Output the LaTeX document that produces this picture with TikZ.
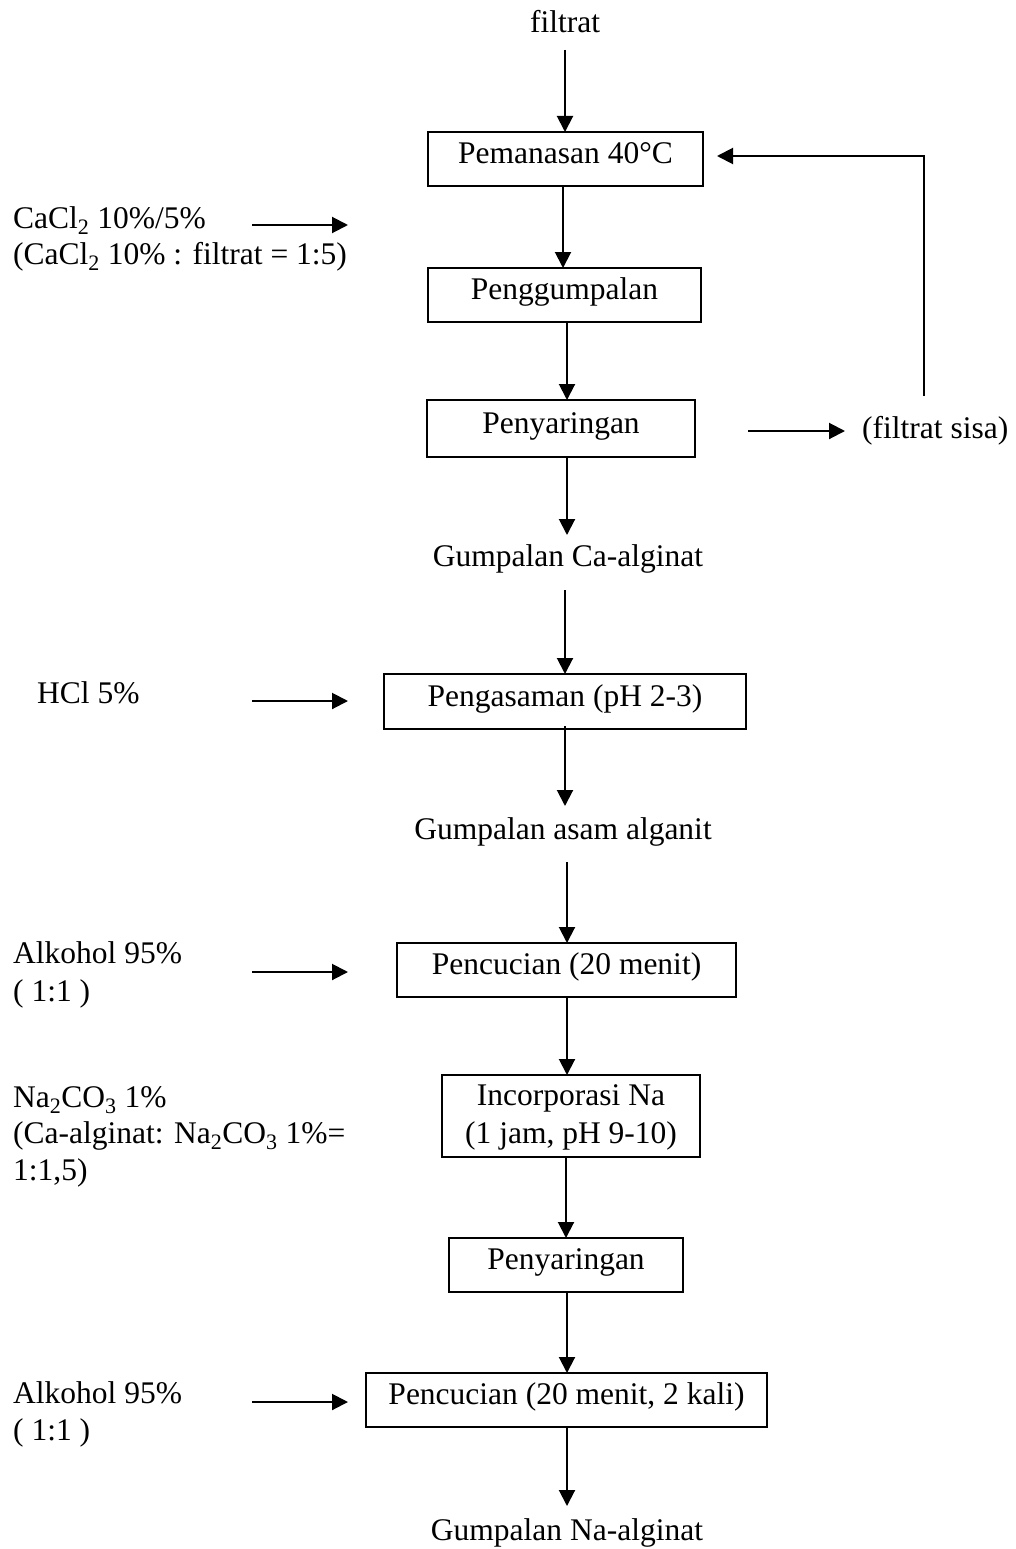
\documentclass[tikz,border=0pt]{standalone}
\usepackage{fontspec}
\setmainfont{Liberation Serif}
\usetikzlibrary{arrows.meta}
\newcommand\bigf{\fontsize{31.5}{37}\selectfont}
\begin{document}
\begin{tikzpicture}[x=1pt,y=-1pt,
  every node/.style={font=\bigf, inner sep=0pt},
  box/.style={draw, line width=2pt, text height=17pt, text depth=8pt},
  lbl/.style={anchor=base west},
  arr/.style={-{Triangle[length=16pt,width=16pt]}, line width=2pt}]
\useasboundingbox (0,0) rectangle (1016,1549);
% main column
\node[anchor=base] (filtrat) at (565,33) {filtrat};
\node[box, minimum width=275pt, minimum height=54pt] (pem) at (565.5,159) {Pemanasan 40°C};
\node[box, minimum width=273pt, minimum height=54pt] (peng) at (564.5,295) {Penggumpalan};
\node[box, minimum width=268pt, minimum height=57pt] (pny1) at (561,428.5) {Penyaringan};
\node[anchor=base] (gca) at (568,566) {Gumpalan Ca-alginat};
\node[box, minimum width=362pt, minimum height=55pt] (pengas) at (565,701.5) {Pengasaman (pH 2-3)};
\node[anchor=base] (gas) at (563,839) {Gumpalan asam alganit};
\node[box, minimum width=339pt, minimum height=54pt] (pnc1) at (566.5,970) {Pencucian (20 menit)};
\node[box, minimum width=258pt, minimum height=82pt] (inc) at (571,1116) {};
\node[anchor=base] (inc1) at (571,1105) {Incorporasi Na};
\node[anchor=base] (inc2) at (571,1143) {(1 jam, pH 9-10)};
\node[box, minimum width=234pt, minimum height=54pt] (pny2) at (566,1265) {Penyaringan};
\node[box, minimum width=401pt, minimum height=54pt] (pnc2) at (566.5,1400) {Pencucian (20 menit, 2 kali)};
\node[anchor=base] (gna) at (567,1540) {Gumpalan Na-alginat};
% right side
\node[lbl] (sisa) at (862,438) {(filtrat sisa)};
% left labels
\node[lbl] (ca1) at (13,228) {CaCl\textsubscript{2} 10\%/5\%};
\node[lbl] (ca2) at (13,264) {(CaCl\textsubscript{2} 10\% : filtrat = 1:5)};
\node[lbl] (hcl) at (37,703) {HCl 5\%};
\node[lbl] (al1) at (13,963) {Alkohol 95\%};
\node[lbl] (al1b) at (13,1001) {( 1:1 )};
\node[lbl] (na1) at (13,1107) {Na\textsubscript{2}CO\textsubscript{3} 1\%};
\node[lbl] (na2) at (13,1143) {(Ca-alginat: Na\textsubscript{2}CO\textsubscript{3} 1\%=};
\node[lbl] (na3) at (13,1180) {1:1,5)};
\node[lbl] (al2) at (13,1403) {Alkohol 95\%};
\node[lbl] (al2b) at (13,1440) {( 1:1 )};
% coordinates
\coordinate (f0) at (565,50);
\coordinate (a1s) at (252,225); \coordinate (a1e) at (348,225);
\coordinate (a2s) at (252,701); \coordinate (a2e) at (348,701);
\coordinate (a3s) at (252,972); \coordinate (a3e) at (348,972);
\coordinate (a4s) at (252,1402); \coordinate (a4e) at (348,1402);
\coordinate (ss) at (748,431); \coordinate (se) at (845,431);
\coordinate (lpb) at (924,396); \coordinate (lpt) at (924,156); \coordinate (lpe) at (717,156);
% vertical arrows
\draw[arr] (f0) -- (565,132);
\draw[arr] (563,186) -- (563,268);
\draw[arr] (567,322) -- (567,400);
\draw[arr] (567,457) -- (567,535);
\draw[arr] (565,590) -- (565,674);
\draw[arr] (565,726) -- (565,806);
\draw[arr] (567,862) -- (567,943);
\draw[arr] (567,997) -- (567,1075);
\draw[arr] (566,1157) -- (566,1238);
\draw[arr] (567,1292) -- (567,1373);
\draw[arr] (567,1427) -- (567,1506);
% side arrows
\draw[arr] (a1s) -- (a1e);
\draw[arr] (a2s) -- (a2e);
\draw[arr] (a3s) -- (a3e);
\draw[arr] (a4s) -- (a4e);
\draw[arr] (ss) -- (se);
\draw[arr] (lpb) -- (lpt) -- (lpe);
\end{tikzpicture}
\end{document}
